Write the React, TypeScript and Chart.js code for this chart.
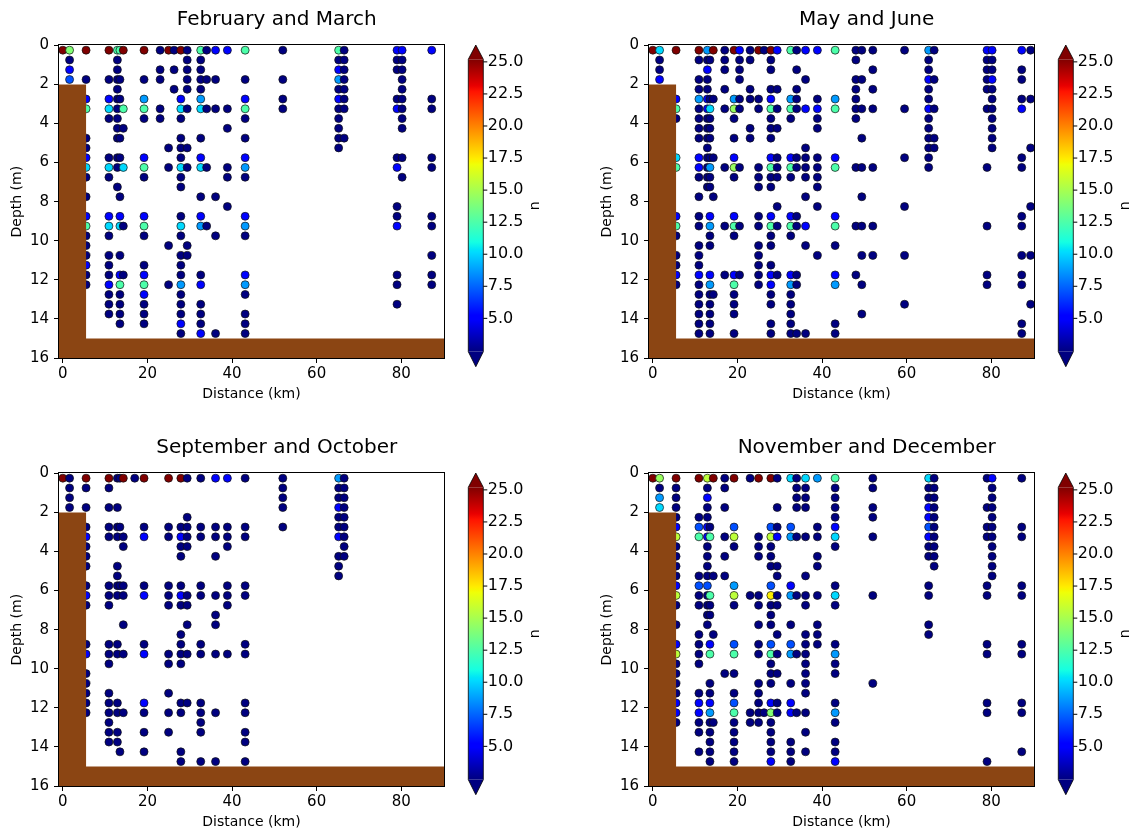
import React, { useEffect, useRef } from "react";
import { Chart, registerables } from "chart.js";

Chart.register(...registerables);

const FONT = "'DejaVu Sans', sans-serif";

// ---------- shared axes / scale values ----------
const DEPTH_LEVELS_M = [
  0.25, 0.75, 1.25, 1.75, 2.25, 2.75, 3.25, 3.75, 4.25, 4.75, 5.25, 5.75, 6.25, 6.75, 7.25,
  7.75, 8.25, 8.75, 9.25, 9.75, 10.25, 10.75, 11.25, 11.75, 12.25, 12.75, 13.25, 13.75, 14.25, 14.75,
];
const X_RANGE_KM = [-0.9, 90.1];
const DEPTH_RANGE_M = [0, 16];
const X_TICKS = [0, 20, 40, 60, 80];
const Y_TICKS = [0, 2, 4, 6, 8, 10, 12, 14, 16];
const CB_TICKS = [5, 7.5, 10, 12.5, 15, 17.5, 20, 22.5, 25];
const N_MIN = 2.4;
const N_MAX = 25.2;

// estimated n value for each colour class seen in the picture
const N_BY_CLASS: Record<string, number> = {
  n: 2.0, // navy (below colour range)
  b: 5.3, // blue
  m: 7.0, // mid blue
  l: 8.7, // light blue
  c: 10.1, // cyan
  t: 12.5, // turquoise
  g: 14.0, // light green
  h: 14.6, // green-yellow
  y: 15.6, // yellow-green
  Y: 17.4, // yellow
  r: 26.0, // dark red (above colour range)
};

// seabed outline (km, m)
const SEABED_X_KM = [-0.9, 5.5, 5.5, 90.1];
const SEABED_DEPTH_M = [2, 2, 15, 15];
const SEABED_FLOOR_M = 16;

// ---------- panel data: station distance (km) + profile per station ----------
// each profile: one character per depth level in DEPTH_LEVELS_M ('.' = no sample)
const FEB_MAR_STATIONS = [0, 1.6, 5.5, 10.9, 12.9, 13.5, 14.3, 19.2, 23.0, 25.0, 26.3, 27.9, 29.4, 32.6, 34.0, 36.1, 38.9, 43.1, 52.0, 65.2, 66.5, 79.0, 80.2, 87.2];
const FEB_MAR_PROFILES = [
  "r.... ..... ..... ..... ..... .....",
  "gnbm. ..... ..... ..... ..... .....",
  "r..n. bt..n nbcn. n.btn nnbnn .....",
  "r..n. bcn.. .ncn. ..bcn .nnnb nnn..",
  "tnnnn nnnnn .nn.n ..... ..... .....",
  "t..n. n...n .n... n.bc. .n.bt nnnn.",
  "r.... .t.n. ..c.. ...n. ...n. .....",
  "r..n. ltn.. .btn. ..btn ..nbt bnnn.",
  "n.nn. .nn.. ..... ..... ..... .....",
  "r.... ..... n.n.. ..... n...n .....",
  "n.n.n ..... ..... ..... ..... .....",
  "r.... bcn.n nncnn ..ncn .nnnl nnnbn",
  "nnnnn .n... n.n.. ..... nn... .....",
  "tnnnn lc..n .bc.. n.bl. ...nb .nnnb",
  "n..n. .n... ..n.. ...n. ..... .....",
  "b..n. .n... ..... n...n ..... ....n",
  "b.... .n.n. ..nn. .n... ..... .....",
  "t..n. btn.n .bln. ..bln ...bl n.nnn",
  "n..n. nn... ..... ..... ..... .....",
  "tnbln bnnnn n.... ..... ..... .....",
  "nnnnn nn..n ..... ..... ..... .....",
  "bnn.. nb... .nb.. .nnb. ...nn .n...",
  "bnnnn nnnn. .n.n. ..... ..... .....",
  "b.... nn... .nn.. ..nn. .n.nn .....",
];

const MAY_JUN_STATIONS = [0, 1.6, 5.5, 10.9, 12.9, 13.5, 14.3, 17.0, 19.2, 20.5, 23.0, 25.0, 26.3, 27.9, 29.4, 32.6, 34.0, 36.1, 38.9, 43.1, 48.0, 49.4, 52.0, 59.5, 65.2, 66.5, 79.0, 80.2, 87.2, 89.3];
const MAY_JUN_PROFILES = [
  "r.... ..... ..... ..... ..... .....",
  "cnnb. ..... ..... ..... ..... .....",
  "r.... btn.. .ct.. ..btn .nnbn .....",
  "rn.nn lnnnn .bbn. n.nn. nnnbn nnnnn",
  "lnbnn bbnnn nnnnn ..... ..... .....",
  ".n... ncnnn .nlnn ..bln n..bl nnnnn",
  "r.... n.... .n... n.... ..... n....",
  "nnn.n .n... ..n.. ...n. ...n. .....",
  "r.... lhn.n .bhn. ..btn ...bt nnn.n",
  "bnnn. nn... ..n.. ...n. ...n. .....",
  "nn..n n..nn ..... ..... ..... .....",
  "r.... nn... ..nnn ..nn. nnnnn .....",
  "n.... ..... ..... ..... ..... .....",
  "rnn.n btnnn .btnn ..btn n.nbb nn.nn",
  "b...n .n.n. .nnn. .n.n. ...n. .....",
  "t.... ltn.. .btn. ..btn ...bl nnnnn",
  "n.n.n nn... .nn.. ..nn. ...nn ....n",
  "b..n. .b... nnnn. n..b. n.... ....n",
  "b.... nbnn. .nnnn .n... .n... .....",
  "t.... lt... .bt.. ..bt. n..bl ...nn",
  "nn.nn nnn.. ..n.. ...n. ...n. .....",
  "n..n. .n..n ..n.. n..n. .n..n ..n..",
  "n.n.n .n... ..n.. ...n. .n... .....",
  "n.... .n... .n... .n... .n... .n...",
  "lnnbn nbnnn nnn.. ..... ..... .....",
  "n..n. .n..n n.... ..... ..... .....",
  "bnnnn .n... ..n.. ...n. ...nn .....",
  "bnnbn nnnnn n.... ..... ..... .....",
  "b.nn. nb... .nn.. ..nn. .n.nn ...nn",
  "n.... n.... n.... .n... .n... .n...",
];

const SEP_OCT_STATIONS = [0, 1.6, 5.5, 10.9, 12.9, 13.5, 14.3, 17.0, 19.2, 25.0, 27.9, 29.4, 32.6, 36.1, 38.9, 43.1, 52.0, 65.2, 66.5];
const SEP_OCT_PROFILES = [
  "r.... ..... ..... ..... ..... .....",
  "nnnn. ..... ..... ..... ..... .....",
  "rn.n. nbnnn .nbn. ..nb. nnnnn .....",
  "rn.n. nn... .nnn. ..nnn ..nnn nnn..",
  "n..n. nn..n nnn.. ..nn. ...nn .nn..",
  "n.... n.... .n... ..... ..... ...n.",
  "r.... .nn.. .nn.. n..n. ....n .....",
  "n.... ..... ..... ..... ..... .....",
  "r.... nb... .nb.. ..nb. ...bn .n.n.",
  "r.... nn... .nnn. ...nn ..n.n .n...",
  "r.... nbnn. .nbn. .nnnn ...nn ...nn",
  "n...n nnn.. ..nn. n..n. ...n. .....",
  "n.... nn... .nn.. ..nn. ...nn nn..n",
  "b.... nn.n. ..n.n n..n. ....n ....n",
  "b.... nnn.. .nnn. ...n. ..... .....",
  "n.... nn... .nn.. ..nn. ...nn .nn.n",
  "nnnn. n.... ..... ..... ..... .....",
  "lnnbn nb.nn n.... ..... ..... .....",
  "nnnnn nnnn. ..... ..... ..... .....",
];

const NOV_DEC_STATIONS = [0, 1.6, 5.5, 10.9, 12.9, 13.5, 14.3, 17.0, 19.2, 23.0, 25.0, 26.3, 27.9, 29.4, 32.6, 34.0, 36.1, 38.9, 43.1, 52.0, 65.2, 66.5, 79.0, 80.2, 87.2];
const NOV_DEC_PROFILES = [
  "r.... ..... ..... ..... ..... .....",
  "hnlc. ..... ..... ..... ..... .....",
  "rnnnn bynnn nbyn. n.byn nnnbb n....",
  "r...n mt... nmnn. .nnnn ..nbb nn.n.",
  "ynbnn bbnnn nmnnn n.... ..... .....",
  "..... nt... ..tnn ..bt. .nnbl nnnnn",
  "r.... ..... n.... .n... ..... n....",
  "nn.n. .n.n. n.... ..... n.... .....",
  "r.... myn.. .lyn. ..mt. n.nmt nnnnn",
  "n.... ..... ..n.. ..... ....n n....",
  "r.... .nnn. ..nn. n.nn. .nnnn n....",
  "..... ..... ..... ..... ....n .....",
  "r.... mynnn .mYnn n.mtn nn.bg nnnnb",
  "n..n. nb..n n.nn. .n.n. n..nn .....",
  "c.... ml... .bl.. n.ml. .n.bb ..nnn",
  "nnnn. .n... ..n.. ...n. ....n .....",
  "cnnn. .n... n.nn. .nnnn nnn.n .n.n.",
  "l.... nn.nn ..n.. nnn.. ..... .....",
  "tnnnn bcn.. .ncn. ..nln n..nl n.nnb",
  "nn.nn .n... ..n.. ..... .n... .....",
  "cnnbb mbnn. .nn.. nn... ..... .....",
  "nnnnn nnnnn ..... ..... ..... .....",
  "n..n. nn... .nn.. ..nn. ...nn ....n",
  "bnnnn nnnnn n.... ..... ..... .....",
  "n.... nn... .nn.. ..nn. ...nn ...n.",
];

// ---------- colour map (jet) ----------
const JET: Record<string, number[][]> = {
  r: [[0, 0], [0.35, 0], [0.66, 1], [0.89, 1], [1, 0.5]],
  g: [[0, 0], [0.125, 0], [0.375, 1], [0.64, 1], [0.91, 0], [1, 0]],
  b: [[0, 0.5], [0.11, 1], [0.34, 1], [0.65, 0], [1, 0]],
};
const JET_STOPS = [0, 0.11, 0.125, 0.34, 0.35, 0.375, 0.64, 0.65, 0.66, 0.89, 0.91, 1];

function interp(pts: number[][], t: number) {
  for (let i = 1; i < pts.length; i++) {
    if (t <= pts[i][0]) {
      const [x0, y0] = pts[i - 1];
      const [x1, y1] = pts[i];
      return y0 + ((t - x0) / (x1 - x0)) * (y1 - y0);
    }
  }
  return pts[pts.length - 1][1];
}
function jet(t: number) {
  const c = (k: string) => Math.round(255 * interp(JET[k], t));
  return `rgb(${c("r")},${c("g")},${c("b")})`;
}
function colorForN(n: number) {
  const t = Math.min(1, Math.max(0, (n - N_MIN) / (N_MAX - N_MIN)));
  return jet(t);
}

function buildPoints(stations: number[], profiles: string[]) {
  const pts: { x: number; y: number; n: number }[] = [];
  stations.forEach((x, i) => {
    const prof = profiles[i].replace(/\s/g, "");
    for (let k = 0; k < prof.length; k++) {
      const ch = prof[k];
      if (ch === ".") continue;
      pts.push({ x, y: DEPTH_LEVELS_M[k], n: N_BY_CLASS[ch] });
    }
  });
  return pts;
}

// ---------- plugins ----------
const framePlugin = {
  id: "frame",
  afterDatasetsDraw(chart: any) {
    const { ctx, chartArea: a } = chart;
    ctx.save();
    ctx.strokeStyle = "#000";
    ctx.lineWidth = 1;
    ctx.strokeRect(Math.round(a.left) - 0.5, Math.round(a.top) - 0.5, Math.round(a.right - a.left) + 1, Math.round(a.bottom - a.top) + 1);
    ctx.restore();
  },
};

const colorbarPlugin = {
  id: "colorbar",
  afterDraw(chart: any) {
    const { ctx, chartArea: a } = chart;
    const x0 = a.right + 24.3;
    const x1 = x0 + 15;
    const xm = (x0 + x1) / 2;
    const bodyTop = a.top + 14;
    const bodyBottom = a.bottom - 6.3;
    const tipTop = a.top - 0.3;
    const tipBottom = a.bottom + 8.7;
    const yFor = (v: number) => bodyBottom - ((v - N_MIN) / (N_MAX - N_MIN)) * (bodyBottom - bodyTop);
    ctx.save();
    const grad = ctx.createLinearGradient(0, bodyBottom, 0, bodyTop);
    JET_STOPS.forEach((s) => grad.addColorStop(s, jet(s)));
    ctx.fillStyle = grad;
    ctx.fillRect(x0, bodyTop, x1 - x0, bodyBottom - bodyTop);
    ctx.fillStyle = jet(1);
    ctx.beginPath();
    ctx.moveTo(x0, bodyTop);
    ctx.lineTo(xm, tipTop);
    ctx.lineTo(x1, bodyTop);
    ctx.closePath();
    ctx.fill();
    ctx.fillStyle = jet(0);
    ctx.beginPath();
    ctx.moveTo(x0, bodyBottom);
    ctx.lineTo(xm, tipBottom);
    ctx.lineTo(x1, bodyBottom);
    ctx.closePath();
    ctx.fill();
    ctx.strokeStyle = "#000";
    ctx.lineWidth = 0.8;
    ctx.beginPath();
    ctx.moveTo(x0, bodyTop);
    ctx.lineTo(xm, tipTop);
    ctx.lineTo(x1, bodyTop);
    ctx.lineTo(x1, bodyBottom);
    ctx.lineTo(xm, tipBottom);
    ctx.lineTo(x0, bodyBottom);
    ctx.closePath();
    ctx.stroke();
    ctx.fillStyle = "#000";
    ctx.font = `16px ${FONT}`;
    ctx.textAlign = "left";
    ctx.textBaseline = "middle";
    ctx.lineWidth = 1;
    CB_TICKS.forEach((v) => {
      const y = yFor(v);
      ctx.beginPath();
      ctx.moveTo(x1, y);
      ctx.lineTo(x1 + 4, y);
      ctx.stroke();
      ctx.fillText(v.toFixed(1), x1 + 4.5, y);
    });
    ctx.translate(a.right + 91, (tipTop + tipBottom) / 2);
    ctx.rotate(-Math.PI / 2);
    ctx.textAlign = "center";
    ctx.font = `14px ${FONT}`;
    ctx.fillText("n", 0, 0);
    ctx.restore();
  },
};

// ---------- panel ----------
const CANVAS_W = 545;
const CANVAS_H = 408;

function Panel(props: { left: number; top: number; title: string; stations: number[]; profiles: string[] }) {
  const ref = useRef<HTMLCanvasElement>(null);
  useEffect(() => {
    const points = buildPoints(props.stations, props.profiles);
    const seabed = SEABED_X_KM.map((x, i) => ({ x, y: SEABED_DEPTH_M[i] }));
    const tickFont = { family: FONT, size: 15 };
    const grid = { display: true, drawOnChartArea: false, drawTicks: true, tickLength: 5, color: "#000", tickColor: "#000", lineWidth: 1, tickWidth: 1 };
    const chart = new Chart(ref.current as HTMLCanvasElement, {
      type: "scatter",
      data: {
        datasets: [
          {
            type: "line",
            data: seabed,
            order: 0,
            borderWidth: 0,
            pointRadius: 0,
            backgroundColor: "#8B4513",
            borderColor: "#8B4513",
            fill: { value: SEABED_FLOOR_M },
            tension: 0,
          } as any,
          {
            type: "scatter",
            data: points,
            order: 1,
            pointRadius: 4,
            pointHoverRadius: 4,
            pointBorderWidth: 0.7,
            pointBorderColor: "#111",
            pointBackgroundColor: points.map((p) => colorForN(p.n)),
          } as any,
        ],
      },
      options: {
        animation: false,
        responsive: false,
        events: [],
        layout: { padding: { left: 8.4, right: 0, top: 0, bottom: 0 } },
        plugins: {
          legend: { display: false },
          tooltip: { enabled: false },
          title: {
            display: true,
            text: props.title,
            color: "#000",
            font: { family: FONT, size: 20, weight: "normal" },
            padding: { top: 7.5, bottom: 13.8 },
          },
        },
        scales: {
          x: {
            type: "linear",
            min: X_RANGE_KM[0],
            max: X_RANGE_KM[1],
            afterBuildTicks: (s: any) => {
              s.ticks = X_TICKS.map((v) => ({ value: v }));
            },
            afterFit: (s: any) => {
              s.height = 50;
            },
            grid,
            border: { display: false },
            ticks: { color: "#000", font: tickFont, padding: 2, maxRotation: 0, autoSkip: false, callback: (v: any) => String(v) },
            title: { display: true, text: "Distance (km)", color: "#000", font: { family: FONT, size: 14 }, padding: { top: 0, bottom: 5.1 } },
          },
          y: {
            type: "linear",
            reverse: true,
            min: DEPTH_RANGE_M[0],
            max: DEPTH_RANGE_M[1],
            afterBuildTicks: (s: any) => {
              s.ticks = Y_TICKS.map((v) => ({ value: v }));
            },
            afterFit: (s: any) => {
              s.width = 50.6;
            },
            grid,
            border: { display: false },
            ticks: { color: "#000", font: tickFont, padding: 5, autoSkip: false, callback: (v: any) => String(v) },
            title: { display: true, text: "Depth (m)", color: "#000", font: { family: FONT, size: 14 }, padding: { top: 0.7, bottom: 0 } },
          },
          pad: {
            type: "linear",
            position: "right",
            display: true,
            grid: { display: false },
            border: { display: false },
            ticks: { display: false },
            afterFit: (s: any) => {
              s.width = 101;
            },
          },
        },
      } as any,
      plugins: [framePlugin, colorbarPlugin],
    });
    return () => chart.destroy();
  }, []);
  return (
    <canvas
      ref={ref}
      width={CANVAS_W}
      height={CANVAS_H}
      style={{ position: "absolute", left: props.left, top: props.top, width: CANVAS_W, height: CANVAS_H }}
    />
  );
}

export default function App() {
  return (
    <div style={{ position: "absolute", left: 0, top: 0, width: 1135, height: 836, overflow: "hidden", background: "#fff" }}>
      <Panel left={0} top={0} title="February and March" stations={FEB_MAR_STATIONS} profiles={FEB_MAR_PROFILES} />
      <Panel left={590} top={0} title="May and June" stations={MAY_JUN_STATIONS} profiles={MAY_JUN_PROFILES} />
      <Panel left={0} top={428} title="September and October" stations={SEP_OCT_STATIONS} profiles={SEP_OCT_PROFILES} />
      <Panel left={590} top={428} title="November and December" stations={NOV_DEC_STATIONS} profiles={NOV_DEC_PROFILES} />
    </div>
  );
}
